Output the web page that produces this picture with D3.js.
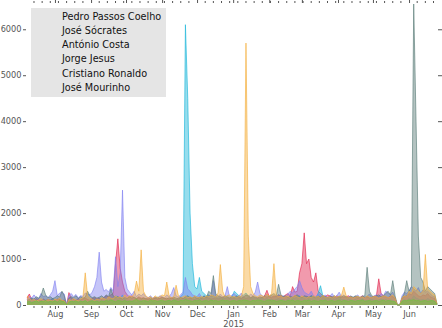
<!DOCTYPE html>
<html>
<head>
<meta charset="utf-8">
<script src="https://cdn.jsdelivr.net/npm/d3@7"></script>
<style>
  body { margin: 0; background: #fff; }
  svg { display: block; font-family: "DejaVu Sans", sans-serif; }
</style>
</head>
<body>
<svg id="chart"></svg>
<script>
// series order = legend order = drawing order
const names = ["Pedro Passos Coelho", "José Sócrates", "António Costa", "Jorge Jesus", "Cristiano Ronaldo", "José Mourinho"];
const colors = ["#e0204a", "#17b4d8", "#7f7ff0", "#587a76", "#f4ad3a", "#6cc83a"];

// one value every 2 days, starting 8 Jul 2014
const startDate = new Date(2014, 6, 8);
const stepDays = 2;

const pedro = [
  150, 240, 120, 100, 140, 110, 90, 130, 100, 120,
  110, 140, 100, 130, 120, 90, 110, 0, 270, 150,
  120, 100, 140, 110, 130, 150, 120, 100, 140, 160,
  130, 150, 120, 160, 200, 180, 220, 250, 900, 1440,
  800, 500, 300, 220, 180, 200, 160, 140, 180, 150,
  160, 130, 150, 120, 140, 160, 130, 150, 170, 140,
  150, 130, 160, 140, 120, 150, 170, 140, 160, 130,
  150, 140, 120, 160, 130, 150, 140, 170, 150, 130,
  140, 160, 130, 150, 170, 140, 160, 130, 150, 140,
  160, 150, 130, 170, 140, 160, 150, 180, 140, 160,
  150, 170, 200, 320, 180, 160, 200, 180, 220, 200,
  180, 220, 250, 200, 400, 280, 300, 700, 900, 1570,
  900, 1000, 600, 500, 700, 300, 250, 200, 180, 220,
  200, 180, 160, 200, 170, 190, 160, 180, 200, 170,
  160, 180, 150, 170, 200, 160, 180, 150, 170, 190,
  200, 570, 250, 200, 180, 160, 200, 180, 150, 0,
  0, 150, 180, 200, 250, 220, 300, 250, 200, 180,
  220, 200, 250, 180, 160, 140, 10
];
const socrates = [
  80, 60, 100, 70, 90, 60, 80, 100, 70, 60,
  80, 150, 90, 70, 60, 80, 70, 0, 60, 90,
  70, 60, 80, 100, 70, 90, 60, 80, 100, 120,
  90, 110, 80, 100, 130, 90, 150, 110, 200, 180,
  150, 220, 120, 100, 80, 90, 70, 60, 80, 100,
  70, 90, 60, 80, 70, 60, 80, 100, 70, 90,
  80, 100, 90, 120, 110, 150, 180, 250, 6100, 4500,
  2000, 900, 400, 350, 600, 300, 250, 200, 220, 180,
  200, 160, 150, 180, 140, 160, 200, 150, 180, 300,
  250, 200, 180, 220, 260, 200, 160, 150, 170, 140,
  130, 150, 120, 140, 110, 130, 100, 120, 140, 110,
  120, 100, 130, 150, 160, 140, 180, 200, 150, 170,
  140, 160, 200, 180, 150, 260, 420, 200, 170, 150,
  130, 160, 120, 140, 200, 110, 120, 100, 130, 110,
  100, 120, 90, 110, 130, 100, 90, 110, 120, 100,
  90, 110, 130, 100, 120, 90, 110, 100, 80, 0,
  0, 90, 110, 100, 140, 120, 200, 150, 130, 110,
  120, 100, 140, 110, 90, 80, 10
];
const costa = [
  120, 180, 150, 220, 160, 140, 250, 180, 200, 160,
  220, 300, 530, 200, 260, 280, 240, 0, 210, 250,
  180, 230, 160, 200, 190, 260, 240, 220, 280, 400,
  600, 1150, 500, 300, 340, 280, 380, 300, 1050, 400,
  700, 2500, 600, 350, 280, 220, 300, 180, 240, 200,
  250, 180, 160, 200, 150, 170, 140, 200, 180, 160,
  220, 180, 250, 380, 200, 170, 230, 280, 600, 350,
  300, 220, 200, 180, 250, 160, 200, 150, 220, 180,
  530, 200, 170, 240, 180, 200, 400, 160, 220, 250,
  180, 200, 260, 170, 220, 180, 240, 200, 280, 500,
  250, 200, 180, 230, 170, 210, 160, 190, 220, 180,
  200, 170, 240, 300, 260, 350, 400, 530, 380, 280,
  250, 220, 300, 200, 180, 240, 200, 170, 220, 160,
  190, 250, 170, 200, 280, 180, 220, 150, 170, 200,
  160, 180, 220, 150, 200, 170, 190, 240, 160, 200,
  220, 180, 250, 200, 300, 260, 220, 280, 150, 0,
  0, 200, 280, 250, 300, 400, 350, 300, 380, 250,
  330, 280, 300, 250, 200, 180, 20
];
const jesus = [
  100, 120, 150, 130, 180, 150, 200, 370, 220, 160,
  180, 140, 160, 200, 170, 300, 200, 0, 150, 180,
  160, 200, 140, 180, 150, 170, 300, 200, 160, 180,
  150, 170, 200, 160, 220, 180, 350, 200, 160, 180,
  150, 130, 160, 140, 180, 150, 170, 140, 160, 130,
  150, 140, 120, 160, 130, 150, 170, 140, 160, 150,
  130, 160, 140, 170, 150, 130, 160, 140, 180, 200,
  160, 150, 180, 140, 170, 150, 200, 160, 300, 250,
  640, 250, 200, 180, 160, 200, 170, 150, 180, 160,
  200, 170, 150, 180, 220, 200, 160, 190, 170, 150,
  180, 160, 200, 170, 190, 220, 250, 200, 450, 220,
  180, 200, 160, 190, 170, 200, 220, 180, 160, 200,
  190, 170, 200, 180, 160, 190, 170, 200, 180, 160,
  190, 170, 200, 160, 180, 170, 200, 180, 160, 190,
  170, 200, 180, 160, 190, 200, 820, 300, 200, 180,
  200, 220, 180, 200, 250, 300, 220, 530, 200, 0,
  0, 150, 250, 530, 300, 400, 6550, 4000, 1500, 600,
  500, 300, 400, 350, 300, 250, 20
];
const ronaldo = [
  200, 150, 100, 120, 90, 110, 140, 100, 80, 120,
  100, 90, 130, 110, 150, 100, 90, 0, 120, 100,
  140, 110, 90, 130, 160, 700, 200, 150, 120, 100,
  130, 110, 160, 140, 120, 180, 150, 130, 200, 160,
  180, 150, 220, 160, 200, 180, 240, 520, 300, 1200,
  300, 200, 160, 180, 140, 200, 160, 180, 220, 200,
  500, 200, 160, 180, 430, 200, 150, 180, 200, 160,
  180, 150, 200, 170, 160, 190, 150, 200, 180, 220,
  200, 170, 260, 880, 300, 180, 200, 220, 170, 190,
  160, 200, 180, 400, 5700, 1500, 400, 250, 200, 180,
  220, 200, 170, 240, 190, 250, 900, 220, 180, 200,
  160, 180, 200, 150, 170, 210, 180, 160, 200, 170,
  150, 180, 160, 200, 170, 190, 150, 210, 170, 160,
  180, 150, 200, 170, 190, 210, 390, 200, 160, 180,
  150, 170, 190, 160, 180, 150, 200, 170, 160, 190,
  180, 150, 170, 200, 190, 160, 180, 220, 150, 0,
  0, 160, 200, 180, 300, 250, 400, 350, 300, 250,
  300, 1100, 350, 300, 250, 220, 20
];
const mourinho = [
  60, 80, 50, 70, 90, 60, 80, 70, 100, 60,
  80, 70, 90, 60, 100, 80, 70, 0, 60, 80,
  70, 90, 60, 80, 70, 100, 60, 80, 90, 70,
  80, 60, 90, 70, 100, 80, 110, 90, 70, 100,
  90, 80, 100, 70, 90, 80, 100, 120, 90, 80,
  100, 90, 80, 110, 90, 100, 80, 90, 110, 80,
  90, 100, 80, 110, 90, 80, 100, 90, 120, 100,
  90, 80, 100, 90, 110, 80, 90, 100, 80, 110,
  90, 100, 80, 90, 110, 90, 100, 80, 90, 100,
  80, 100, 90, 110, 100, 90, 80, 100, 90, 110,
  100, 90, 80, 100, 110, 90, 100, 80, 90, 100,
  90, 80, 100, 90, 110, 80, 100, 90, 80, 100,
  90, 110, 80, 100, 90, 80, 100, 90, 110, 80,
  90, 100, 80, 90, 110, 80, 100, 90, 80, 100,
  90, 80, 100, 90, 110, 80, 90, 100, 80, 90,
  100, 80, 90, 110, 80, 100, 90, 80, 70, 0,
  0, 80, 100, 90, 110, 100, 120, 90, 100, 80,
  90, 100, 80, 90, 100, 80, 10
];
const seriesValues = [pedro, socrates, costa, jesus, ronaldo, mourinho];
const yTicks = [0, 1000, 2000, 3000, 4000, 5000, 6000];

const width = 442, height = 328;
const margin = { top: 4, right: 5, bottom: 23, left: 27 };
const tickColor = "#555";
const tickFont = "8.2px";

const svg = d3.select("#chart").attr("width", width).attr("height", height);

const series = names.map((name, k) => ({
  name: name,
  color: colors[k],
  values: seriesValues[k].map((v, i) => ({ date: d3.timeDay.offset(startDate, i * stepDays), value: v }))
}));

const allDates = series[0].values.map(d => d.date);
const x = d3.scaleTime()
  .domain(d3.extent(allDates))
  .range([margin.left, width - margin.right]);

const yMax = d3.max(series, s => d3.max(s.values, d => d.value));
const y = d3.scaleLinear()
  .domain([0, yMax])
  .range([height - margin.bottom, margin.top]);

// filled areas, drawn in column order (last on top)
const area = d3.area()
  .x(d => x(d.date))
  .y0(y(0))
  .y1(d => y(d.value));
const line = d3.line()
  .x(d => x(d.date))
  .y(d => y(d.value));

const plot = svg.append("g");
series.forEach(s => {
  plot.append("path")
    .datum(s.values)
    .attr("d", area)
    .attr("fill", s.color)
    .attr("fill-opacity", 0.45);
  plot.append("path")
    .datum(s.values)
    .attr("d", line)
    .attr("fill", "none")
    .attr("stroke", s.color)
    .attr("stroke-opacity", 0.9)
    .attr("stroke-width", 0.7);
});

// axes: months major, Mondays minor
const [d0, d1] = x.domain();
const months = d3.timeMonth.range(d3.timeMonth.ceil(d0), d1);
const weeks = d3.timeMonday.range(d0, d1);
const fmtMonth = d3.timeFormat("%b");

const xBottom = d3.axisBottom(x).tickValues(months).tickSize(3).tickPadding(2).tickFormat(fmtMonth);
const gx = svg.append("g")
  .attr("transform", `translate(0,${y(0) + 1})`)
  .call(xBottom);
// year under January
gx.selectAll(".tick")
  .filter(d => d.getMonth() === 0)
  .append("text")
  .attr("class", "year")
  .attr("y", 21)
  .attr("text-anchor", "middle")
  .text(d => d.getFullYear());
gx.append("g").selectAll("line")
  .data(weeks.filter(w => w.getDate() !== 1))
  .join("line")
  .attr("x1", d => x(d)).attr("x2", d => x(d))
  .attr("y1", 0).attr("y2", 2)
  .attr("stroke", tickColor);

const gxTop = svg.append("g")
  .attr("transform", `translate(0,${margin.top - 1})`)
  .call(d3.axisTop(x).tickValues(months).tickSize(3).tickFormat(""));
gxTop.append("g").selectAll("line")
  .data(weeks.filter(w => w.getDate() !== 1))
  .join("line")
  .attr("x1", d => x(d)).attr("x2", d => x(d))
  .attr("y1", 0).attr("y2", -2)
  .attr("stroke", tickColor);

const gy = svg.append("g")
  .attr("transform", `translate(${margin.left - 1},0)`)
  .call(d3.axisLeft(y).tickValues(yTicks).tickSize(3).tickPadding(1.5).tickFormat(d3.format("d")));
const gyRight = svg.append("g")
  .attr("transform", `translate(${width - margin.right + 1},0)`)
  .call(d3.axisRight(y).tickValues(yTicks).tickSize(4).tickFormat(""));

[gx, gxTop, gy, gyRight].forEach(g => {
  g.select(".domain").remove();
  g.selectAll(".tick line").attr("stroke", tickColor);
  g.selectAll("text")
    .attr("fill", tickColor)
    .style("font-family", "'DejaVu Sans', sans-serif")
    .style("font-size", tickFont);
});

// legend (box with names only)
const legend = svg.append("g").attr("transform", "translate(31,8)");
legend.append("rect")
  .attr("width", 135).attr("height", 89)
  .attr("fill", "#e5e5e5");
legend.selectAll("text")
  .data(names)
  .join("text")
  .attr("x", 31)
  .attr("y", (d, i) => 11.5 + i * 14.3)
  .attr("fill", "#111")
  .style("font-size", "9.7px")
  .text(d => d);
</script>
</body>
</html>
